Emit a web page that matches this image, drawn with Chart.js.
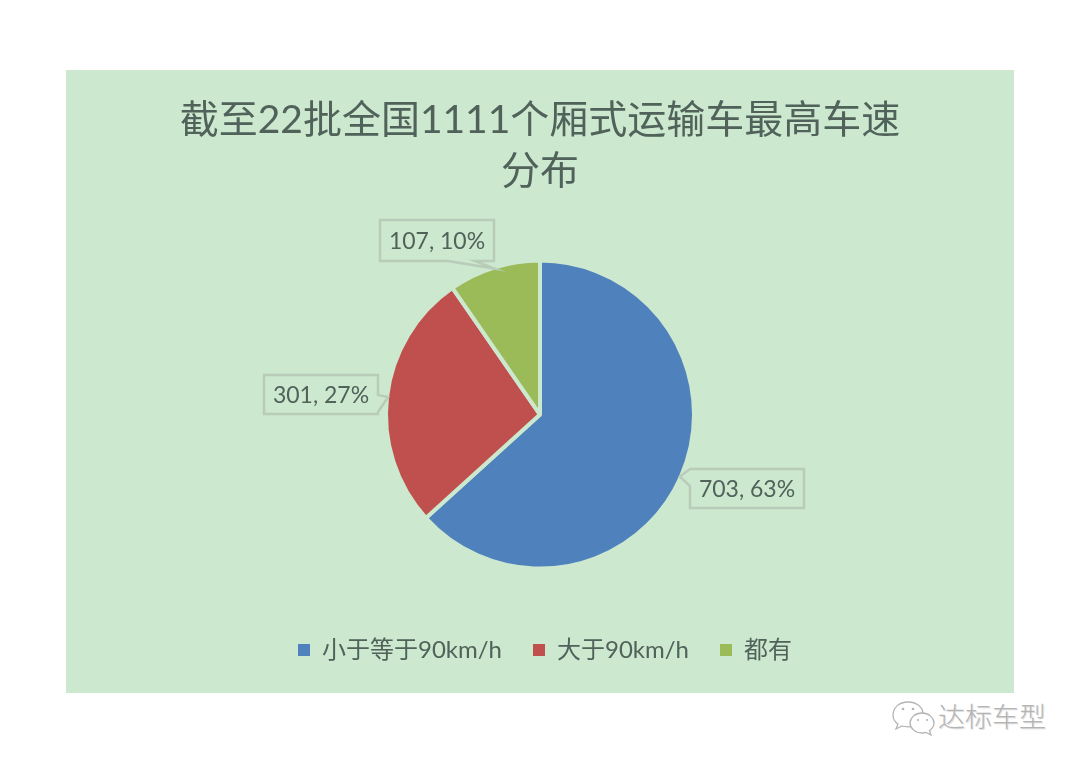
<!DOCTYPE html>
<html lang="zh-CN">
<head>
<meta charset="utf-8">
<title>截至22批全国1111个厢式运输车最高车速分布</title>
<script src="https://cdn.jsdelivr.net/npm/chart.js@4"></script>
<style>
html,body{margin:0;padding:0;width:1080px;height:764px;background:#fff;overflow:hidden}
#wrap{position:absolute;left:66px;top:70px;width:948px;height:623px}
#mark{position:absolute;left:890px;top:697px;width:170px;height:40px}
#markText{position:absolute;left:938px;top:698px;font:300 27px/36px "Noto Sans CJK SC",sans-serif;color:#b4b4b4;text-shadow:1px 1px 0 #e0e0e0;white-space:nowrap}
</style>
</head>
<body>
<div id="wrap"><canvas id="c" width="948" height="623"></canvas></div>
<svg id="mark" viewBox="0 0 170 40" fill="#fff" stroke="#b4b4b4" stroke-width="1.3">
  <path d="M18 5c-9 0-15 6-15 13 0 4 2 7 5 9l-2 5 6-3c2 .6 4 .8 6 .8 8 0 15-6 15-13S26 5 18 5z"/>
  <path d="M32 16c-7 0-12 5-12 10s5 10 12 10c1.500 0 3-.2 4-.6l5 2.600-1.500-4.500c3-2 4.500-4.500 4.500-7.500 0-5-5-10-12-10z"/>
  <g fill="#b4b4b4" stroke="none"><circle cx="13" cy="12" r="1.300"/><circle cx="23" cy="12" r="1.300"/><circle cx="28" cy="23" r="1.100"/><circle cx="37" cy="23" r="1.100"/></g>
</svg>
<div id="markText">达标车型</div>
<script>
const titleLines = ['截至22批全国1111个厢式运输车最高车速', '分布'];
const categories = ['小于等于90km/h', '大于90km/h', '都有'];
const seriesValues = [703, 301, 107];
const sliceColors = ['#4f81bd', '#c0504d', '#9bbb59'];
const panelColor = '#cce8cf';
const textColor = '#50625a';
const fontFamily = 'Lato, "Noto Sans CJK SC", sans-serif';

// callout boxes in canvas pixels; each pointer starts on one box edge and ends on the slice's outer-arc midpoint
const calloutBoxes = [
  {x: 624, y: 399, w: 114, h: 39, edge: 'left', from: 0, to: 17},
  {x: 198, y: 305, w: 114, h: 39, edge: 'right', from: 20, to: 37},
  {x: 314, y: 150, w: 114, h: 41, edge: 'bottom', from: 68, to: 95}
];

const legendShift = {
  id: 'legendShift',
  afterLayout(chart) {
    chart.legend.left += 5;
    chart.legend.right += 5;
  }
};

const calloutPlugin = {
  id: 'callouts',
  afterDatasetsDraw(chart) {
    const {ctx} = chart;
    const total = seriesValues.reduce((a, b) => a + b, 0);
    chart.getDatasetMeta(0).data.forEach((arc, i) => {
      const b = calloutBoxes[i];
      const {x: cx, y: cy, startAngle, endAngle, outerRadius} = arc.getProps(['x', 'y', 'startAngle', 'endAngle', 'outerRadius'], true);
      const a = (startAngle + endAngle) / 2;
      const tx = cx + Math.cos(a) * (outerRadius - 1);
      const ty = cy + Math.sin(a) * (outerRadius - 1);
      const r = b.x + b.w, m = b.y + b.h;
      ctx.save();
      ctx.beginPath();
      ctx.moveTo(b.x, b.y);
      ctx.lineTo(r, b.y);
      if (b.edge === 'right') {
        ctx.lineTo(r, b.y + b.from); ctx.lineTo(tx, ty); ctx.lineTo(r, b.y + b.to);
      }
      ctx.lineTo(r, m);
      if (b.edge === 'bottom') {
        ctx.lineTo(b.x + b.to, m); ctx.lineTo(tx, ty); ctx.lineTo(b.x + b.from, m);
      }
      ctx.lineTo(b.x, m);
      if (b.edge === 'left') {
        ctx.lineTo(b.x, b.y + b.to); ctx.lineTo(tx, ty); ctx.lineTo(b.x, b.y + b.from);
      }
      ctx.closePath();
      ctx.fillStyle = panelColor;
      ctx.strokeStyle = '#b8ccb9';
      ctx.lineWidth = 2.5;
      ctx.fill();
      ctx.stroke();
      ctx.fillStyle = textColor;
      ctx.font = '23px ' + fontFamily;
      ctx.textAlign = 'center';
      ctx.textBaseline = 'middle';
      const pct = Math.round(seriesValues[i] / total * 100);
      ctx.fillText(seriesValues[i] + ', ' + pct + '%', b.x + b.w / 2, b.y + b.h / 2 + 1);
      ctx.restore();
    });
  }
};

new Chart(document.getElementById('c'), {
  type: 'pie',
  plugins: [calloutPlugin, legendShift],
  data: {
    labels: categories,
    datasets: [{
      data: seriesValues,
      backgroundColor: sliceColors,
      borderColor: panelColor,
      borderWidth: 4,
      radius: 154,
      hoverOffset: 0
    }]
  },
  options: {
    responsive: false,
    animation: false,
    layout: {padding: {top: 0, bottom: 21, left: 0, right: 0}},
    plugins: {
      title: {
        display: true,
        text: titleLines,
        color: textColor,
        font: {family: fontFamily, size: 39, weight: 'normal', lineHeight: 1.31},
        padding: {top: 25, bottom: 25}
      },
      legend: {
        display: true,
        position: 'bottom',
        labels: {
          color: textColor,
          font: {family: fontFamily, size: 24},
          boxWidth: 12,
          boxHeight: 12,
          padding: 31,
          generateLabels(chart) {
            return Chart.overrides.pie.plugins.legend.labels.generateLabels(chart)
              .map(item => ({...item, lineWidth: 0, strokeStyle: 'transparent'}));
          }
        }
      },
      tooltip: {enabled: false}
    }
  }
});
document.getElementById('wrap').style.background = panelColor;
</script>
</body>
</html>
